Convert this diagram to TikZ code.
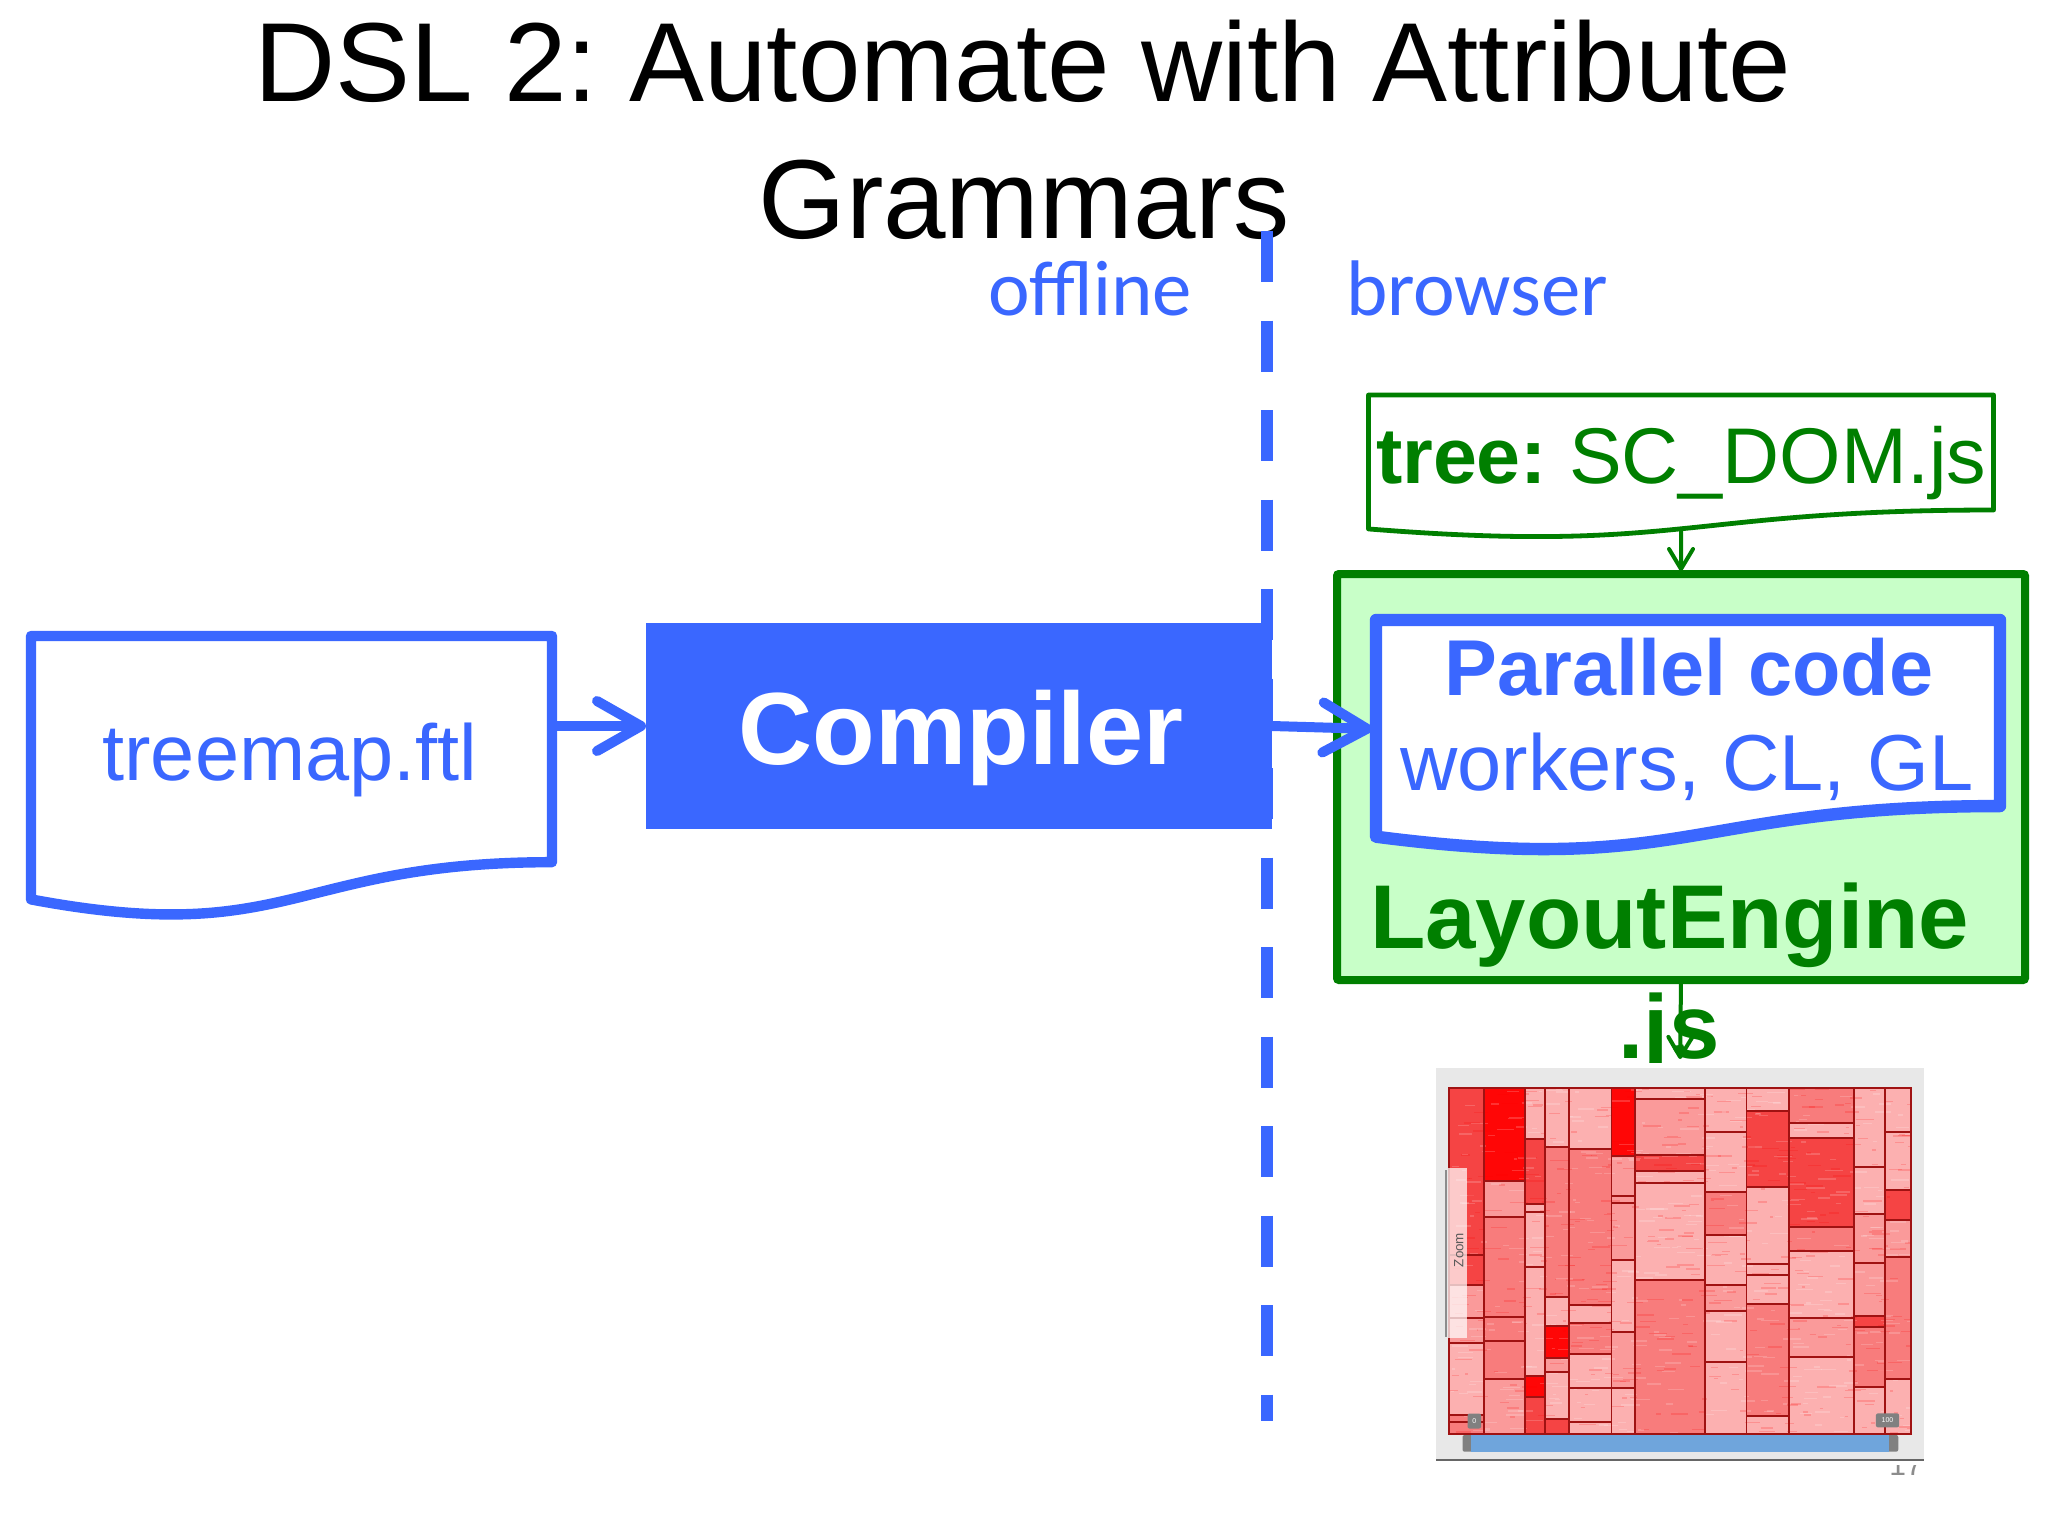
\documentclass[tikz,border=0pt]{standalone}
\usepackage{fontspec}
\setmainfont{Liberation Sans}
\newfontfamily\calfont{Carlito}
\usetikzlibrary{arrows.meta,calc}
\definecolor{slideblue}{HTML}{3A67FF}
\definecolor{slidegreen}{HTML}{007F00}
\definecolor{enginefill}{HTML}{C8FFC8}
\definecolor{ca}{HTML}{FCB0B0}
\definecolor{cb}{HTML}{FA9A9A}
\definecolor{cc}{HTML}{F87C7C}
\definecolor{cd}{HTML}{F54444}
\definecolor{ce}{HTML}{FF0606}
\definecolor{cellline}{HTML}{A01212}
\definecolor{sliderblue}{RGB}{111,165,220}
\newcommand{\docoutline}[1]{(#1.north west) -- (#1.north east) -- ($(#1.north east)!.802!(#1.south east)$) .. controls ($(#1.north)!.802!(#1.south)$) and ($(#1.north)!1.1075!(#1.south)$) .. ($(#1.north west)!.934!(#1.south west)$) -- cycle}
\newcommand{\celllist}{137/145/235/645/cd,137/645/235/735/cd,137/735/235/835/cb,137/835/235/910/cb,137/910/235/1125/ca,137/1125/235/1145/cc,137/1145/235/1182/cc,
235/145/350/422/ce,235/422/350/532/cb,235/532/350/832/cc,235/832/350/903/cc,235/903/350/1017/cc,235/1017/350/1182/cb,
350/145/406/297/ca,350/297/406/492/cd,350/492/406/517/ca,350/517/406/682/ca,350/682/406/1007/ca,350/1007/406/1072/ce,350/1072/406/1182/cd,
406/145/472/320/ca,406/320/472/772/cc,406/772/472/858/ca,406/858/472/955/ce,406/955/472/997/cb,406/997/472/1138/ca,406/1138/472/1182/cd,
472/145/592/328/ca,472/328/592/795/cc,472/795/592/850/ca,472/850/592/942/cc,472/942/592/1045/ca,472/1045/592/1147/ca,472/1147/592/1182/ca,
592/145/658/347/ce,592/347/658/467/cb,592/467/658/488/cb,592/488/658/660/cb,592/660/658/877/ca,592/877/658/1045/cb,592/1045/658/1182/ca,
658/145/853/176/ca,658/176/853/345/cb,658/345/853/392/cd,658/392/853/430/ca,658/430/853/720/ca,658/720/853/1182/cc,
853/145/970/275/ca,853/275/970/455/ca,853/455/970/585/cc,853/585/970/735/ca,853/735/970/812/cb,853/812/970/967/ca,853/967/970/1182/ca,
970/145/1090/213/ca,970/213/1090/442/cd,970/442/1090/672/ca,970/672/1090/705/ca,970/705/1090/793/ca,970/793/1090/1128/cc,970/1128/1090/1182/ca,
1090/145/1270/250/cc,1090/250/1270/295/ca,1090/295/1270/562/cd,1090/562/1270/632/cc,1090/632/1270/835/ca,1090/835/1270/952/cb,1090/952/1270/1182/ca,
1270/145/1358/382/ca,1270/382/1358/522/ca,1270/522/1358/668/cb,1270/668/1358/827/cb,1270/827/1358/860/cd,1270/860/1358/1042/cc,1270/1042/1358/1182/ca,
1358/145/1430/275/ca,1358/275/1430/450/ca,1358/450/1430/540/cd,1358/540/1430/650/cb,1358/650/1430/1018/cc,1358/1018/1430/1182/ca}
\tikzset{
  x=0.5pt,y=-0.5pt,
  plainnode/.style={inner sep=0pt,outer sep=0pt},
  titletext/.style={plainnode,anchor=base,text=black,font=\fontsize{56.2}{60}\selectfont},
  zonetext/.style={plainnode,anchor=base west,text=slideblue,font=\calfont\fontsize{39.4}{42}\selectfont},
  docbox/.style={plainnode,minimum width=#1},
  bluetext/.style={plainnode,anchor=base,text=slideblue,font=\fontsize{39.7}{44}\selectfont},
  greentext/.style={plainnode,text=slidegreen,font=\bfseries\fontsize{45.3}{50}\selectfont},
  bigarrow/.style={slideblue,line width=5pt,line cap=round,-{Straight Barb[length=22pt,width=25pt,round]}},
  thinarrow/.style={slidegreen,line width=2pt,-{Straight Barb[length=10pt,width=12pt,round]}},
}
\begin{document}
\frenchspacing
\begin{tikzpicture}
\useasboundingbox (0,0) rectangle (2048,1536);
\fill[white] (0,0) rectangle (2048,1536);
% title
\node[titletext] (titleone) at (1023,102) {DSL 2: Automate with Attribute};
\node[titletext] (titletwo) at (1024,238) {Grammars};
% divider
\draw[slideblue,line width=6pt,dash pattern=on 25.5pt off 19.25pt] (1267,231) -- (1267,1421);
\node[zonetext] (offline) at (988,315) {offline};
\node[zonetext] (browser) at (1346,315) {browser};
% source document
\node[docbox=260.5pt,minimum height=141pt] (treemap) at (291.5,777) {};
\draw[slideblue,line width=5.2pt,line join=round,fill=white] \docoutline{treemap};
\node[bluetext] (treemaplabel) at (290,780) {treemap.ftl};
% compiler
\node[plainnode,fill=slideblue,minimum width=313pt,minimum height=103pt] (compiler) at (959,726) {};
\node[plainnode,anchor=base,text=white,font=\bfseries\fontsize{51.3}{56}\selectfont] (compilerlabel) at (961,764) {Compiler};
% tree document
\node[docbox=312.5pt,minimum height=71.7pt] (tree) at (1681,466.7) {};
\draw[slidegreen,line width=2.4pt,line join=round,fill=white] \docoutline{tree};
\node[plainnode,anchor=base west,text=slidegreen,font=\fontsize{39.5}{44}\selectfont] (treelabel) at (1376,483) {{\bfseries tree:} SC\_DOM.js};
% layout engine
\node[plainnode,draw=slidegreen,fill=enginefill,line width=4pt,rounded corners=1pt,minimum width=344pt,minimum height=203pt] (engine) at (1681,777) {};
\node[docbox=312pt,minimum height=116pt] (parallel) at (1688,736) {};
\draw[slideblue,line width=6.2pt,line join=round,fill=white] \docoutline{parallel};
\node[plainnode,anchor=base,text=slideblue,font=\bfseries\fontsize{39.6}{44}\selectfont] (parallelone) at (1689,695) {Parallel code};
\node[bluetext] (paralleltwo) at (1687,790) {workers, CL, GL};
\node[greentext,anchor=base west] (enginelabel) at (1370,948) {LayoutEngine};
\node[greentext,anchor=base] (enginejs) at (1669,1058) {.js};
% page number, mostly covered by the screenshot
\node[plainnode,anchor=base,text=gray!90,font=\fontsize{15}{16}\selectfont] (pagenum) at (1906,1475) {17};
\fill[white] (1428,1063) rectangle (1934,1465);
% screenshot frame
\node[plainnode,fill=black!9,minimum width=244pt,minimum height=196pt] (shot) at (1680,1264) {};
\draw[black!60,line width=1.4pt] (shot.south west) -- (shot.south east);
\begin{scope}[shift={(700pt,-520pt)},x=0.17857pt,y=-0.16667pt]
  \foreach \xa/\ya/\xb/\yb/\c in \celllist {\fill[\c] (\xa,\ya) rectangle (\xb,\yb);}
  \begin{scope}
    \clip (137,145) rectangle (1430,1182);
    \pgfmathsetseed{11}
    \foreach \i in {1,...,450}{
      \pgfmathsetmacro\px{137+rnd*1293}\pgfmathsetmacro\py{145+rnd*1037}\pgfmathsetmacro\pl{8+rnd*45}
      \draw[red,opacity=.18,line width=.7pt] (\px,\py) -- ++(\pl,0);
      \pgfmathsetmacro\qx{137+rnd*1293}\pgfmathsetmacro\qy{145+rnd*1037}\pgfmathsetmacro\ql{8+rnd*45}
      \draw[white,opacity=.18,line width=.7pt] (\qx,\qy) -- ++(\ql,0);
    }
  \end{scope}
  \foreach \xa/\ya/\xb/\yb/\c in \celllist {\draw[cellline,line width=.95pt] (\xa,\ya) rectangle (\xb,\yb);}
  % zoom control
  \fill[white,opacity=.72] (133,383) rectangle (188,895);
  \draw[black!45,line width=1pt] (130,390) -- (130,890);
  \node[plainnode,rotate=90,text=black!65,font=\fontsize{6.7}{8}\selectfont] (zoomlabel) at (165,630) {Zoom};
  % slider
  \fill[black!50,rounded corners=1pt] (175,1185) rectangle (1395,1235);
  \fill[sliderblue] (200,1185) rectangle (1370,1235);
  \node[plainnode,fill=black!50,rounded corners=1pt,minimum width=6.8pt,minimum height=7.5pt,text=white,font=\fontsize{3.5}{4}\selectfont] (lowhandle) at (208,1143) {0};
  \node[plainnode,fill=black!50,rounded corners=1pt,minimum width=11.6pt,minimum height=7pt,text=white,font=\fontsize{3.5}{4}\selectfont] (highhandle) at (1365,1141) {100};
\end{scope}
% connectors
\draw[bigarrow] (treemap.east |- compiler.west) -- (compiler.west);
\draw[bigarrow,shorten >=2pt] (compiler.east) -- ($(parallel.north west)!.47!(parallel.south west)$);
\draw[thinarrow,shorten >=1.5pt] ($(tree.north)!.95!(tree.south)$) -- (engine.north);
\draw[thinarrow,shorten >=4.5pt] (engine.south) -- (shot.north);
\end{tikzpicture}
\end{document}
